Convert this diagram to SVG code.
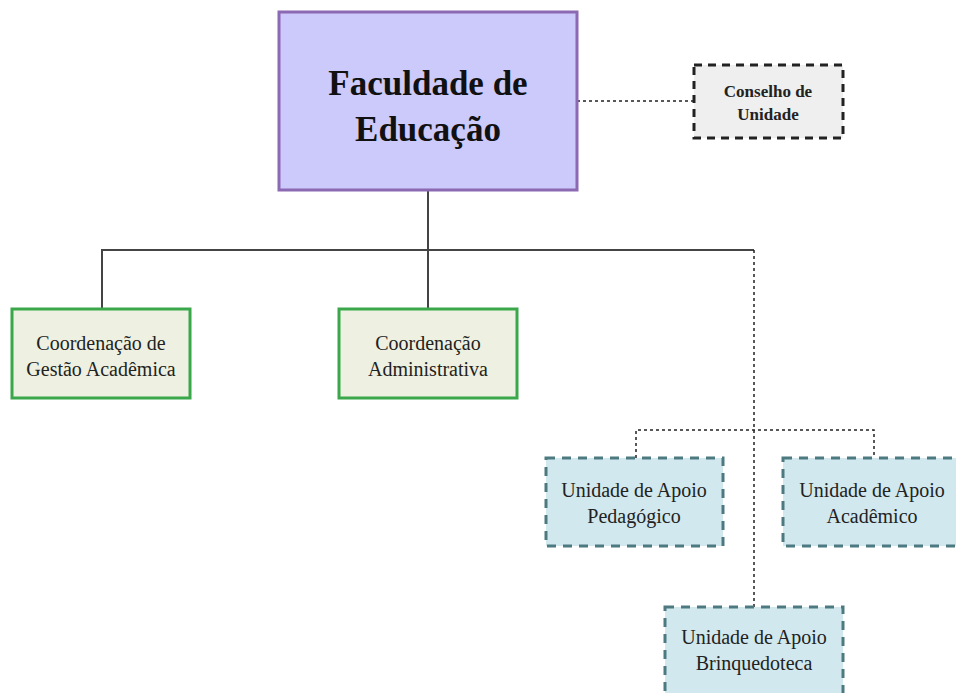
<svg xmlns="http://www.w3.org/2000/svg" width="956" height="693" viewBox="0 0 956 693">
<style>
.solid{fill:none;stroke:#444;stroke-width:2}
.dot{fill:none;stroke:#222;stroke-width:1.5;stroke-dasharray:3,3}
.main{fill:#ccc9fb;stroke:#8b69b3;stroke-width:3}
.cons{fill:#efefef;stroke:#222;stroke-width:3;stroke-dasharray:8,6}
.coord{fill:#eef1e1;stroke:#3aa84a;stroke-width:3}
.uni{fill:#d1e8ef;stroke:#4d7a80;stroke-width:3;stroke-dasharray:9,7}
text{font-family:"Liberation Serif","Times New Roman",serif;text-anchor:middle;fill:#222}
.big{font-size:35px;font-weight:bold;fill:#111}
.sm{font-size:17px;font-weight:bold}
.t{font-size:20px}
</style>
<rect width="956" height="693" fill="#fff"/>
<g id="connectors">
<path class="solid" d="M428 190V250M102 309V250H754M428 250V309"/>
<path class="dot" d="M577 101H694M754 250V607M636 458V430H874V458"/>
</g>
<g id="faculdade">
<rect class="main" x="279" y="12" width="298" height="178"/>
<text class="big" x="428" y="95">Faculdade de</text>
<text class="big" x="428" y="141">Educação</text>
</g>
<g id="conselho">
<rect class="cons" x="694" y="65" width="149" height="73"/>
<text class="sm" x="768" y="97">Conselho de</text>
<text class="sm" x="768" y="120">Unidade</text>
</g>
<g id="coord-gestao">
<rect class="coord" x="12" y="309" width="178" height="89"/>
<text class="t" x="101" y="350">Coordenação de</text>
<text class="t" x="101" y="376">Gestão Acadêmica</text>
</g>
<g id="coord-admin">
<rect class="coord" x="339" y="309" width="178" height="89"/>
<text class="t" x="428" y="350">Coordenação</text>
<text class="t" x="428" y="376">Administrativa</text>
</g>
<g id="uni-pedagogico">
<rect class="uni" x="546" y="458" width="177" height="88"/>
<text class="t" x="634" y="497">Unidade de Apoio</text>
<text class="t" x="634" y="523">Pedagógico</text>
</g>
<g id="uni-academico">
<rect class="uni" x="783" y="458" width="178" height="88"/>
<text class="t" x="872" y="497">Unidade de Apoio</text>
<text class="t" x="872" y="523">Acadêmico</text>
</g>
<g id="uni-brinquedoteca">
<rect class="uni" x="665" y="607" width="178" height="88"/>
<text class="t" x="754" y="644">Unidade de Apoio</text>
<text class="t" x="754" y="670">Brinquedoteca</text>
</g>
</svg>
